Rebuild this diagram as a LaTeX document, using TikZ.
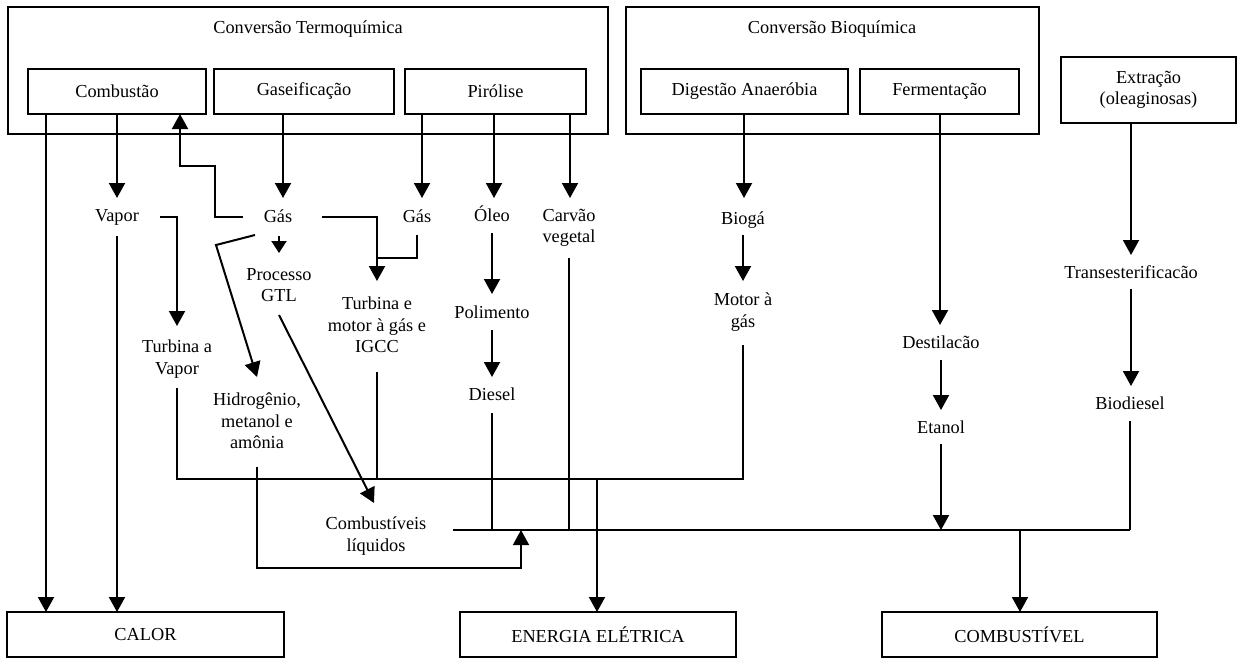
\documentclass[tikz,border=0pt]{standalone}
\usepackage{fontspec}
\setmainfont{Liberation Serif}
\usetikzlibrary{arrows.meta}
\begin{document}
\begin{tikzpicture}[x=1pt,y=-1pt,
  every node/.style={font=\fontsize{18.3}{21.3}\selectfont, inner sep=0pt, outer sep=0pt},
  box/.style={draw, line width=1.5pt, rectangle, anchor=north west, align=center},
  lbl/.style={align=center},
  one/.style={text height=0.7em, text depth=0.22em},
  arr/.style={line width=2pt, -{Triangle[length=15pt,width=16pt]}},
  sarr/.style={line width=2pt, -{Triangle[length=12pt,width=15pt]}},
  tarr/.style={line width=1.5pt, -{Triangle[length=15pt,width=16pt]}},
  thick line/.style={line width=2pt},
  thin line/.style={line width=1.4pt}
]
\useasboundingbox (0,0) rectangle (1238,659);

% ---- boxes ----
\node[box, minimum width=600pt, minimum height=127pt] (termo) at (8,7) {};
\node (termotitle) at (308,31) [one] {Conversão Termoquímica};
\node[box, minimum width=178pt, minimum height=45pt] (comb) at (28,69) {Combustão};
\node[box, minimum width=180pt, minimum height=45pt] (gasif) at (214,69) {Gaseificação};
\node[box, minimum width=181pt, minimum height=45pt] (piro) at (405,69) {Pirólise};

\node[box, minimum width=413pt, minimum height=127pt] (bio) at (626,7) {};
\node (biotitle) at (832,31) [one] {Conversão Bioquímica};
\node[box, minimum width=207pt, minimum height=45pt] (dig) at (641,69) {Digestão Anaeróbia};
\node[box, minimum width=159pt, minimum height=45pt] (ferm) at (860,69) {Fermentação};

\node[box, minimum width=175pt, minimum height=66pt] (extr) at (1061,57) {Extração\\(oleaginosas)};

\node[box, minimum width=277pt, minimum height=45pt] (calor) at (7,612) {CALOR};
\node[box, minimum width=276pt, minimum height=45pt] (ener) at (460,612) {ENERGIA ELÉTRICA};
\node[box, minimum width=275pt, minimum height=45pt] (combf) at (882,612) {COMBUSTÍVEL};

% ---- text nodes ----
\node[one] (vapor) at (117,219) {Vapor};
\node[one] (gas1) at (278,220) {Gás};
\node[one] (gas2) at (417,220) {Gás};
\node[one] (oleo) at (492,219) {Óleo};
\node[lbl] (carvao) at (569,228) {Carvão\\vegetal};
\node[one] (biogas) at (743,222) {Biogá};
\node[lbl] (turbv) at (177,359) {Turbina a\\Vapor};
\node[lbl] (gtl) at (279,285) {Processo\\GTL};
\node[lbl] (turbg) at (377,325) {Turbina e\\motor à gás e\\IGCC};
\node[one] (polim) at (492,316) {Polimento};
\node[one] (diesel) at (492,398) {Diesel};
\node[lbl] (hidro) at (257,421) {Hidrogênio,\\metanol e\\amônia};
\node[lbl] (motor) at (743,312) {Motor à\\gás};
\node[one] (destil) at (941,346) {Destilacão};
\node[one] (etanol) at (941,431) {Etanol};
\node[one] (trans) at (1131,276) {Transesterificacão};
\node[one] (biodiesel) at (1130,407) {Biodiesel};
\node[lbl] (combliq) at (376,536) {Combustíveis\\líquidos};

% ---- named coordinates ----
\coordinate (xL) at (46,0);
\coordinate (vapT) at (117,198);
\coordinate (vapB) at (117,236);
\coordinate (vapR) at (160,217);
\coordinate (tvT) at (177,326);
\coordinate (g1L) at (243,217);
\coordinate (g1k) at (215,166);
\coordinate (xUp) at (180,0);
\coordinate (g1T) at (283,198);
\coordinate (gtlT) at (279,253);
\coordinate (g1B) at (279,236);
\coordinate (g1D) at (255,235);
\coordinate (g1Dk) at (216,245);
\coordinate (hidT) at (257,377);
\coordinate (g1R) at (322,217);
\coordinate (tgT) at (377,281);
\coordinate (g2B) at (417,235);
\coordinate (g2k) at (377,258);
\coordinate (g2T) at (422,198);
\coordinate (olT) at (494,198);
\coordinate (caT) at (570,198);
\coordinate (olB) at (492,233);
\coordinate (poT) at (492,294);
\coordinate (poB) at (492,330);
\coordinate (diT) at (492,377);
\coordinate (gtlB) at (279,315);
\coordinate (clT) at (374,503);
\coordinate (tvB) at (177,388);
\coordinate (jE) at (597,479);
\coordinate (tgB) at (377,372);
\coordinate (moB) at (743,345);
\coordinate (hiB) at (257,467);
\coordinate (hik) at (257,568);
\coordinate (clA) at (521,530);
\coordinate (clR) at (453,530);
\coordinate (bdJ) at (1130,530);
\coordinate (diB) at (492,413);
\coordinate (caB) at (569,258);
\coordinate (bdB) at (1130,421);
\coordinate (jC) at (1020,530);
\coordinate (dgT) at (744,198);
\coordinate (bgB) at (743,235);
\coordinate (moT) at (743,281);
\coordinate (feT) at (940,325);
\coordinate (deB) at (941,360);
\coordinate (etT) at (941,410);
\coordinate (etB) at (941,444);
\coordinate (etJ) at (941,530);
\coordinate (exT) at (1131,255);
\coordinate (trB) at (1131,289);
\coordinate (bdT) at (1131,386);

% ---- connectors: thermochemical ----
\draw[arr] (comb.south -| xL) -- (calor.north -| xL);
\draw[arr] (comb.south -| vapT) -- (vapT);
\draw[arr] (vapB) -- (calor.north -| vapB);
\draw[arr] (vapR) -| (tvT);
\draw[arr] (g1L) -| (g1k) -| (comb.south -| xUp);
\draw[arr] (gasif.south -| g1T) -- (g1T);
\draw[sarr] (g1B) -- (gtlT);
\draw[arr] (g1D) -- (g1Dk) -- (hidT);
\draw[arr] (g1R) -| (tgT);
\draw[thick line] (g2B) |- (g2k);
\draw[arr] (piro.south -| g2T) -- (g2T);
\draw[arr] (piro.south -| olT) -- (olT);
\draw[arr] (piro.south -| caT) -- (caT);
\draw[arr] (olB) -- (poT);
\draw[arr] (poB) -- (diT);
\draw[arr] (gtlB) -- (clT);

% ---- to electricity ----
\draw[thin line] (tvB) |- (jE);
\draw[thin line] (tgB) -- (tgB |- jE);
\draw[thick line] (moB) |- (jE);
\draw[arr] (jE) -- (ener.north -| jE);

% ---- to fuel ----
\draw[tarr] (hiB) -- (hik) -| (clA);
\draw[thin line] (clR) -- (bdJ);
\draw[thin line] (diB) -- (diB |- clR);
\draw[thin line] (caB) -- (caB |- clR);
\draw[thin line] (bdB) -- (bdJ);
\draw[arr] (jC) -- (combf.north -| jC);

% ---- biochemical ----
\draw[arr] (dig.south -| dgT) -- (dgT);
\draw[arr] (bgB) -- (moT);
\draw[arr] (ferm.south -| feT) -- (feT);
\draw[arr] (deB) -- (etT);
\draw[arr] (etB) -- (etJ);
\draw[arr] (extr.south -| exT) -- (exT);
\draw[arr] (trB) -- (bdT);
\end{tikzpicture}
\end{document}
